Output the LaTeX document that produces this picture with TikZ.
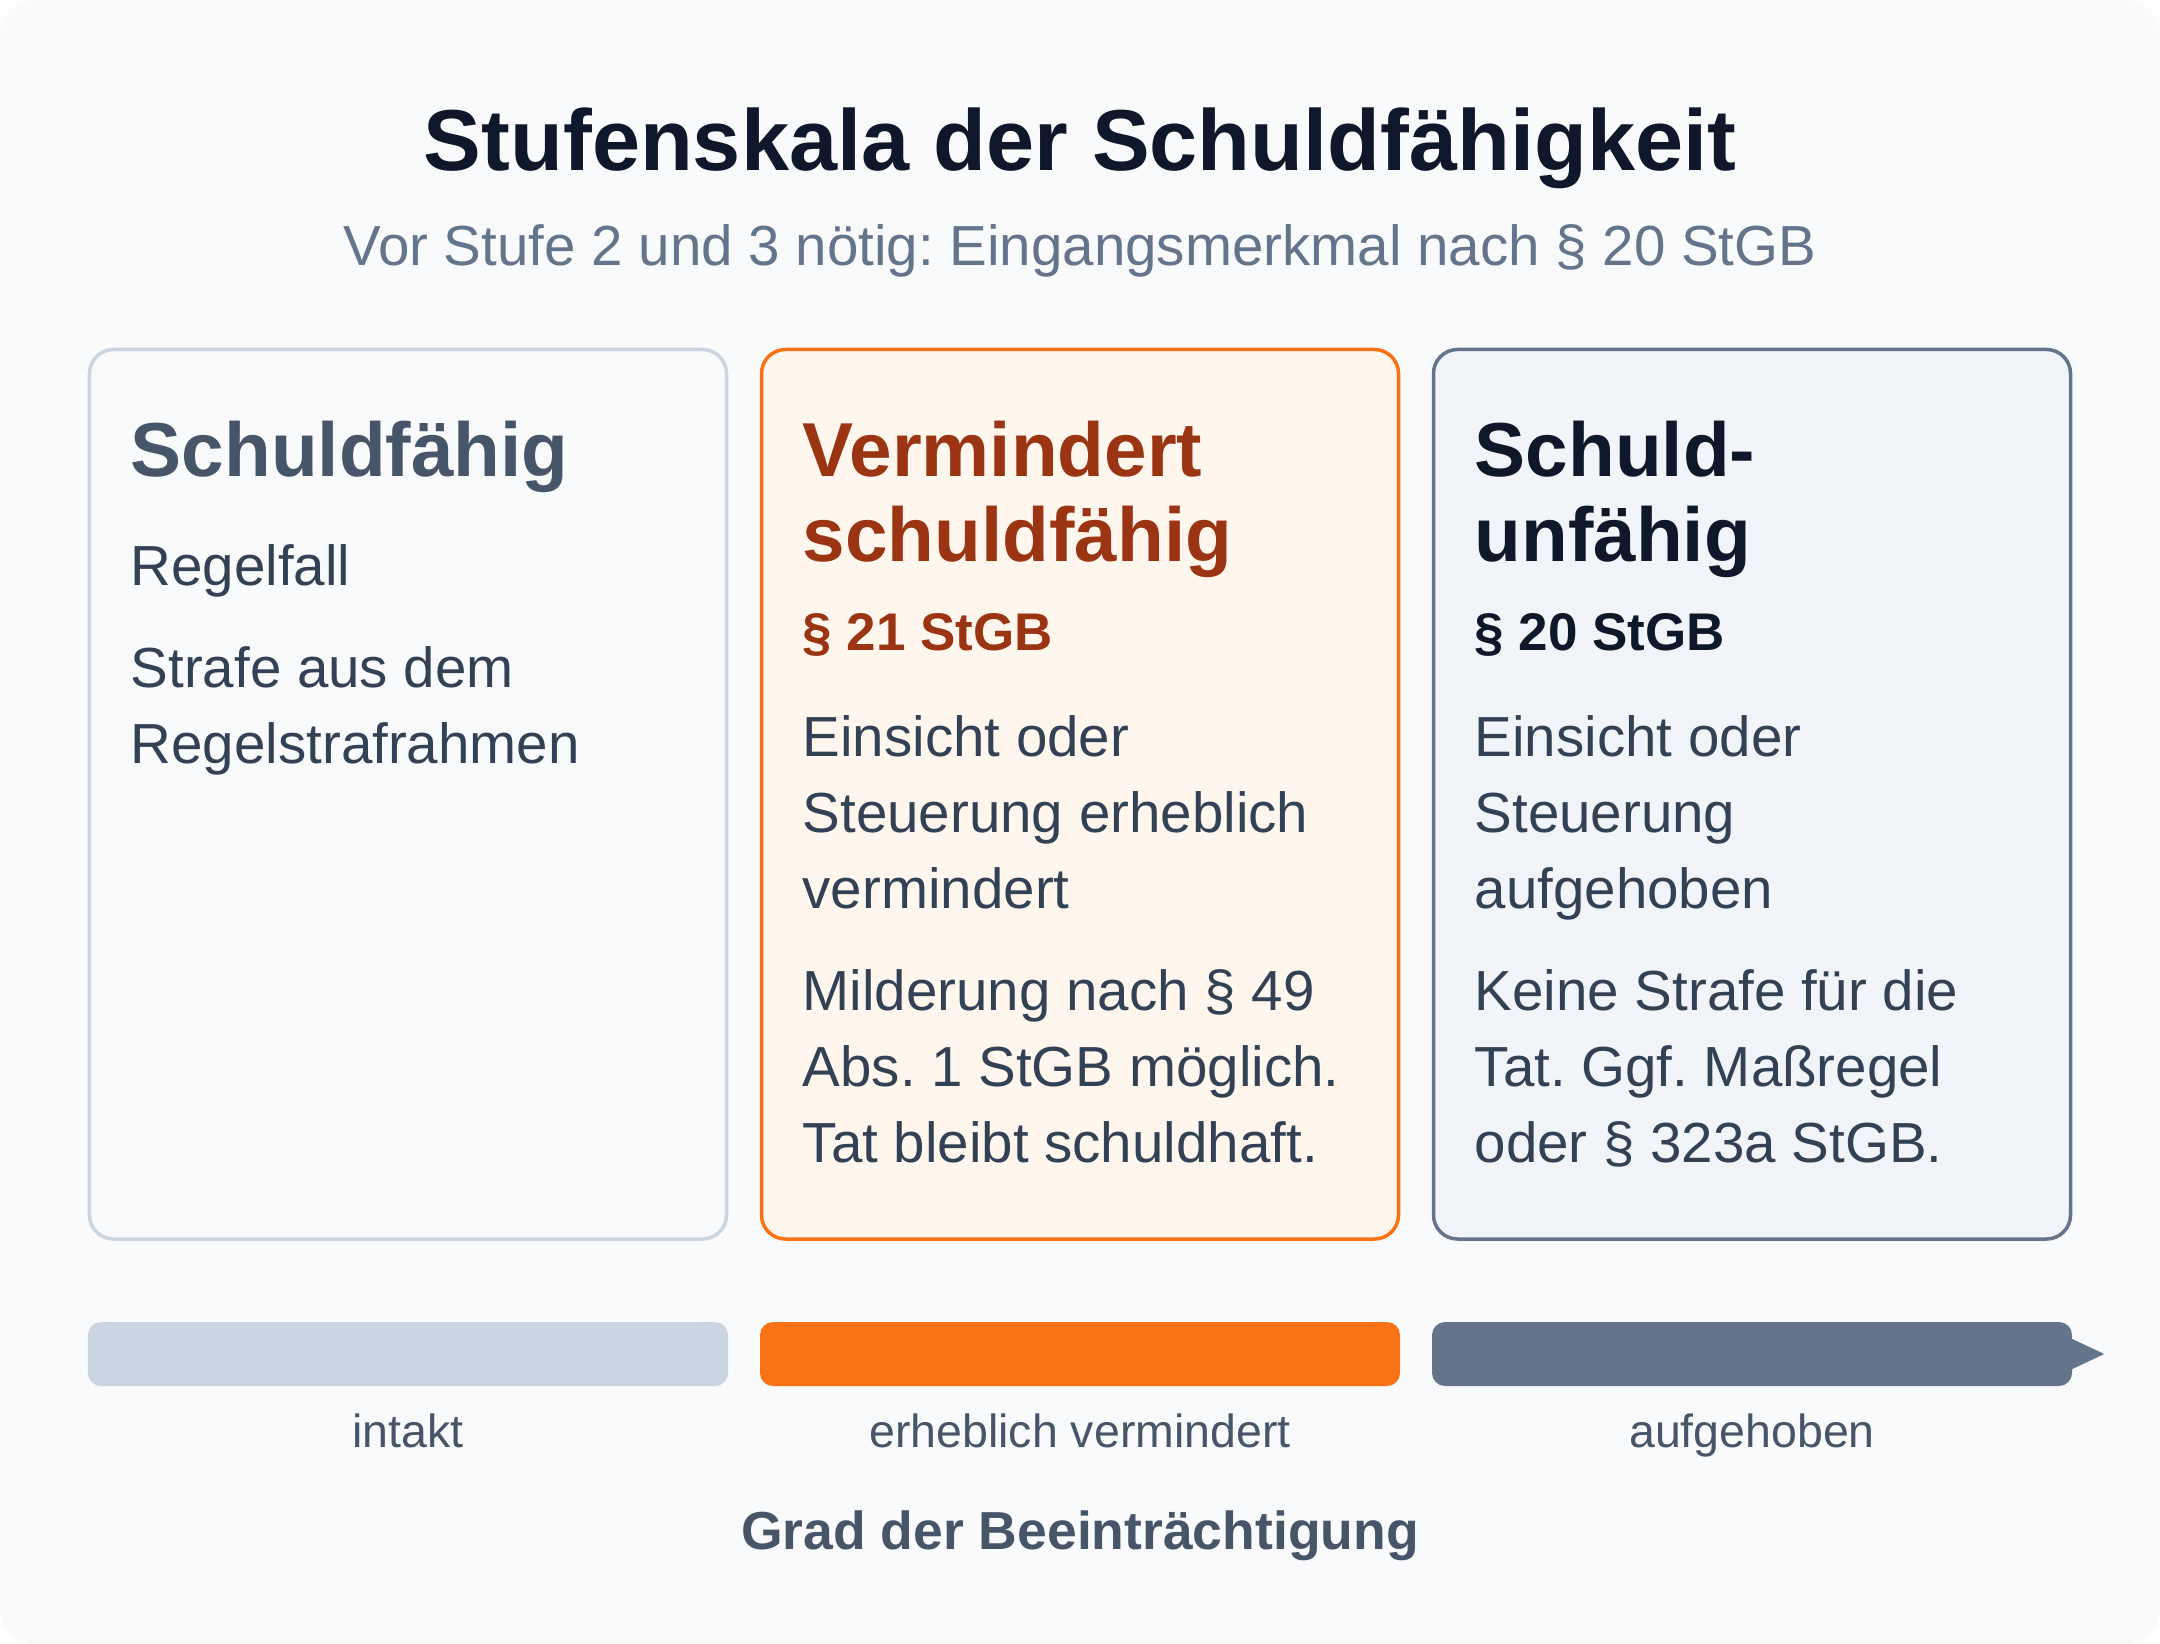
\documentclass[tikz,border=0pt]{standalone}
\usepackage{fontspec}
\setmainfont{Liberation Sans}
\frenchspacing
\definecolor{bg}{HTML}{F8FAFC}
\definecolor{slateA}{HTML}{CBD5E1}
\definecolor{slateB}{HTML}{64748B}
\definecolor{slateC}{HTML}{F1F5F9}
\definecolor{slateD}{HTML}{0F172A}
\definecolor{slateE}{HTML}{475569}
\definecolor{slateF}{HTML}{334155}
\definecolor{orangeA}{HTML}{F97316}
\definecolor{orangeB}{HTML}{FFF7ED}
\definecolor{orangeC}{HTML}{9A3412}
\newcommand{\mypara}[2]{\begin{minipage}[t]{#1}\raggedright\frenchspacing #2\end{minipage}}
\begin{document}
\begin{tikzpicture}[x=1bp,y=-1bp,
  card/.style={rounded corners=24bp, line width=3.5bp, minimum width=637bp, minimum height=889.5bp, inner sep=0pt},
  bar/.style={rounded corners=13bp, minimum width=640bp, minimum height=64bp, inner sep=0pt},
  ctitle/.style={anchor=base west, inner sep=0pt, font=\fontsize{76.5bp}{85bp}\selectfont\bfseries},
  csec/.style={anchor=base west, inner sep=0pt, font=\fontsize{53bp}{76bp}\selectfont\bfseries},
  cbody/.style={anchor=base west, inner sep=0pt, text=slateF, font=\fontsize{56.5bp}{76bp}\selectfont},
  lab/.style={anchor=base, inner sep=0pt, text=slateE, font=\fontsize{46.5bp}{56bp}\selectfont}
]
\useasboundingbox (0,0) rectangle (2160,1644);
\fill[white] (0,0) rectangle (2160,1644);
\fill[bg, rounded corners=34bp] (0,0) rectangle (2160,1644);

% title
\node[anchor=base, inner sep=0pt, text=slateD, font=\fontsize{86.5bp}{95bp}\selectfont\bfseries] (title) at (1080,170.5) {Stufenskala der Schuldfähigkeit};
\node[anchor=base, inner sep=0pt, text=slateB, font=\fontsize{56.5bp}{66bp}\selectfont] (sub) at (1080,265) {Vor Stufe 2 und 3 nötig: Eingangsmerkmal nach § 20 StGB};

% cards
\node[card, draw=slateA, fill=bg] (c1) at (408,794.25) {};
\node[card, draw=orangeA, fill=orangeB] (c2) at (1080,794.25) {};
\node[card, draw=slateB, fill=slateC] (c3) at (1752,794.25) {};

% card 1
\node[ctitle, text=slateE] (t1) at (130.5,476) {Schuldfähig};
\node[cbody] (p1a) at (130.5,585) {Regelfall};
\node[cbody] (p1b) at (130.5,687.3) {\mypara{570bp}{Strafe aus dem\\Regelstrafrahmen}};

% card 2
\node[ctitle, text=orangeC] (t2) at (802.5,476.5) {\mypara{570bp}{Vermindert\\schuldfähig}};
\node[csec, text=orangeC] (s2) at (802.5,650) {§ 21 StGB};
\node[cbody] (p2a) at (802.5,756) {\mypara{580bp}{Einsicht oder\\Steuerung erheblich\\vermindert}};
\node[cbody] (p2b) at (802.5,1010) {\mypara{580bp}{Milderung nach § 49\\Abs. 1 StGB möglich.\\Tat bleibt schuldhaft.}};

% card 3
\node[ctitle, text=slateD] (t3) at (1474.5,476.5) {\mypara{570bp}{Schuld-\\unfähig}};
\node[csec, text=slateD] (s3) at (1474.5,650) {§ 20 StGB};
\node[cbody] (p3a) at (1474.5,756) {\mypara{580bp}{Einsicht oder\\Steuerung\\aufgehoben}};
\node[cbody] (p3b) at (1474.5,1010) {\mypara{580bp}{Keine Strafe für die\\Tat. Ggf. Maßregel\\oder § 323a StGB.}};

% scale bars
\node[bar, fill=slateA] (b1) at (408,1354) {};
\node[bar, fill=orangeA] (b2) at (1080,1354) {};
\node[bar, fill=slateB] (b3) at (1752,1354) {};
\fill[slateB] ([xshift=-2bp,yshift=16bp]b3.east) -- ([xshift=32bp]b3.east) -- ([xshift=-2bp,yshift=-16bp]b3.east) -- cycle;

% labels
\node[lab] (l1) at (408,1447.7) {intakt};
\node[lab] (l2) at (1080,1447.7) {erheblich vermindert};
\node[lab] (l3) at (1752,1447.7) {aufgehoben};
\node[anchor=base, inner sep=0pt, text=slateE, font=\fontsize{53.5bp}{60bp}\selectfont\bfseries] (axis) at (1080,1549) {Grad der Beeinträchtigung};
\end{tikzpicture}
\end{document}
